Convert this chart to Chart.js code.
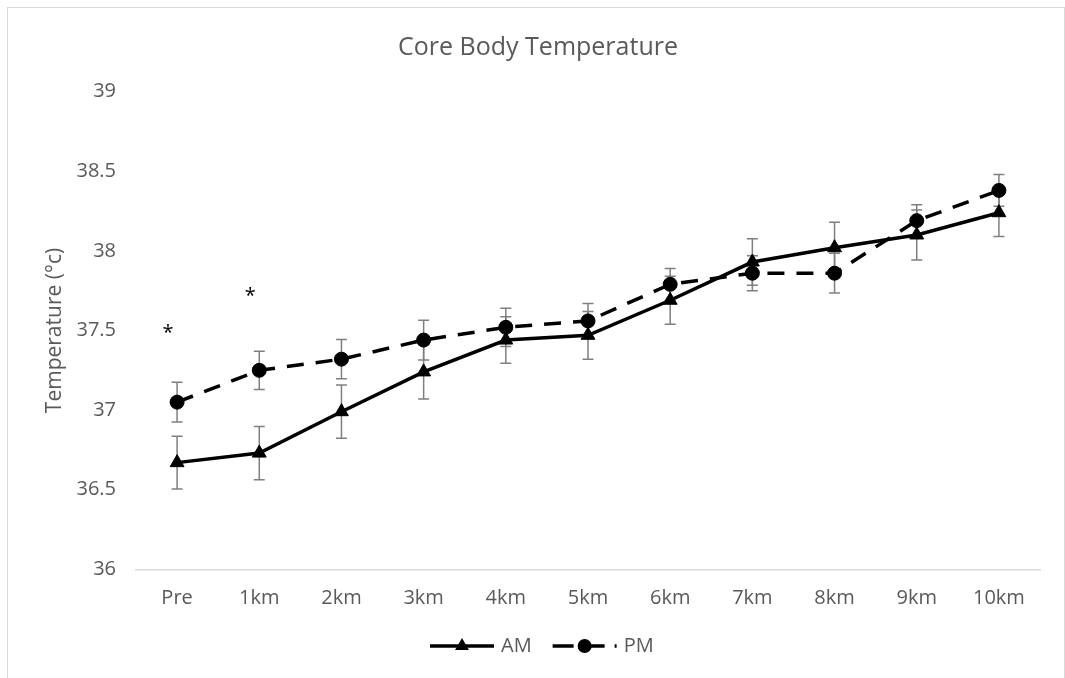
<!DOCTYPE html>
<html>
<head>
<meta charset="utf-8">
<script src="https://cdn.jsdelivr.net/npm/chart.js@4/dist/chart.umd.min.js"></script>
<style>
	html, body { margin: 0; padding: 0; background: #fff; overflow: hidden; }
	.wrap { position: relative; width: 1065px; height: 678px; }
	.frame { position: absolute; left: 7px; top: 7px; width: 1056px; height: 720px; border: 1.5px solid #d9d9d9; pointer-events: none; }
</style>
</head>
<body>
<div class="wrap">
	<canvas id="myChart" width="1065" height="678"></canvas>
	<div class="frame"></div>
</div>
<script>
// данные графика
const categories = ["Pre", "1km", "2km", "3km", "4km", "5km", "6km", "7km", "8km", "9km", "10km"];
const amValues = [36.67, 36.73, 36.99, 37.24, 37.44, 37.47, 37.69, 37.93, 38.02, 38.1, 38.24];
const pmValues = [37.05, 37.25, 37.32, 37.44, 37.52, 37.56, 37.79, 37.86, 37.86, 38.19, 38.38];
const amErrors = [0.166, 0.167, 0.167, 0.17, 0.146, 0.15, 0.15, 0.146, 0.16, 0.157, 0.15];
const pmErrors = [0.125, 0.12, 0.123, 0.125, 0.12, 0.11, 0.1, 0.11, 0.125, 0.1, 0.1];
// звездочки значимости (категория -> уровень по оси)
const sigMarks = ["*", "*", "", "", "", "", "", "", "", "", ""];
const sigValues = [37.52, 37.755, null, null, null, null, null, null, null, null, null];
const yMin = 36;
const yMax = 39;
const yStep = 0.5;

const textColor = "#595959";
const fontFamily = "'Open Sans', sans-serif";

// усы погрешностей
const errorBars = {
	id: "errorBars",
	beforeDatasetsDraw(chart) {
		const ctx = chart.ctx;
		const yScale = chart.scales.y;
		ctx.save();
		ctx.strokeStyle = "#7f7f7f";
		ctx.lineWidth = 1.5;
		chart.data.datasets.forEach((ds, i) => {
			const meta = chart.getDatasetMeta(i);
			meta.data.forEach((pt, j) => {
				const top = yScale.getPixelForValue(ds.data[j] + ds.errors[j]);
				const bottom = yScale.getPixelForValue(ds.data[j] - ds.errors[j]);
				ctx.beginPath();
				ctx.moveTo(pt.x, top);
				ctx.lineTo(pt.x, bottom);
				ctx.moveTo(pt.x - 5.5, top);
				ctx.lineTo(pt.x + 5.5, top);
				ctx.moveTo(pt.x - 5.5, bottom);
				ctx.lineTo(pt.x + 5.5, bottom);
				ctx.stroke();
			});
		});
		ctx.restore();
	},
};

// звездочки над точками
const sigLabels = {
	id: "sigLabels",
	afterDatasetsDraw(chart) {
		const ctx = chart.ctx;
		const { x, y } = chart.scales;
		ctx.save();
		ctx.fillStyle = "#000";
		ctx.font = "20px " + fontFamily;
		ctx.textAlign = "center";
		ctx.textBaseline = "alphabetic";
		sigMarks.forEach((mark, j) => {
			if (!mark) return;
			ctx.fillText(mark, x.getPixelForValue(j) - 9, y.getPixelForValue(sigValues[j]) + 12);
		});
		ctx.restore();
	},
};

// легенда с линией и маркером
const lineLegend = {
	id: "lineLegend",
	afterDraw(chart) {
		const ctx = chart.ctx;
		const cy = 646;
		let left = 430;
		ctx.save();
		chart.data.datasets.forEach((ds) => {
			ctx.strokeStyle = ds.borderColor;
			ctx.lineWidth = ds.borderWidth;
			ctx.setLineDash(ds.borderDash ? [21, 10] : []);
			ctx.beginPath();
			ctx.moveTo(left, cy);
			ctx.lineTo(left + 64, cy);
			ctx.stroke();
			ctx.setLineDash([]);
			ctx.fillStyle = ds.pointBackgroundColor;
			Chart.helpers.drawPoint(ctx, { pointStyle: ds.pointStyle, radius: ds.pointRadius, rotation: 0, borderWidth: 0 }, left + 32, cy);
			ctx.fillStyle = textColor;
			ctx.font = "20px " + fontFamily;
			ctx.textBaseline = "middle";
			ctx.textAlign = "left";
			ctx.fillText(ds.label, left + 71, cy);
			left += 71 + ctx.measureText(ds.label).width + 21;
		});
		ctx.restore();
	},
};

const ctx = document.getElementById("myChart");

const config = {
	type: "line",
	data: {
		labels: categories,
		datasets: [
			{
				label: "AM",
				data: amValues,
				errors: amErrors,
				borderColor: "#000",
				borderWidth: 3.5,
				pointStyle: "triangle",
				pointRadius: 8,
				pointBackgroundColor: "#000",
				pointBorderColor: "#000",
				pointBorderWidth: 1,
				tension: 0,
			},
			{
				label: "PM",
				data: pmValues,
				errors: pmErrors,
				borderColor: "#000",
				borderWidth: 3.5,
				borderDash: [17, 12],
				pointStyle: "circle",
				pointRadius: 7,
				pointBackgroundColor: "#000",
				pointBorderColor: "#000",
				pointBorderWidth: 1,
				tension: 0,
			},
		],
	},
	options: {
		responsive: false,
		animation: false,
		layout: {
			padding: { top: 0, left: 36, right: 25, bottom: 58.7 },
		},
		plugins: {
			legend: { display: false },
			tooltip: { enabled: false },
			title: {
				display: true,
				text: "Core Body Temperature",
				color: textColor,
				font: { family: fontFamily, size: 25, weight: "normal" },
				padding: { top: 33, bottom: 28.7 },
			},
		},
		scales: {
			x: {
				offset: true,
				grid: { display: false, drawTicks: false },
				border: { display: true, color: "#d9d9d9", width: 1.5 },
				ticks: {
					color: textColor,
					font: { family: fontFamily, size: 20 },
					padding: 17,
					maxRotation: 0,
				},
				afterFit(scale) {
					scale.height = 50;
				},
			},
			y: {
				min: yMin,
				max: yMax,
				grid: { display: false, drawTicks: false },
				border: { display: false },
				ticks: {
					stepSize: yStep,
					color: textColor,
					font: { family: fontFamily, size: 20 },
					padding: 20,
					// без лишнего ".0"
					callback: (value) => String(value),
				},
				title: {
					display: true,
					text: "Temperature (°c)",
					color: textColor,
					font: { family: fontFamily, size: 21, weight: "normal" },
					padding: { top: 6, bottom: 0 },
				},
				afterFit(scale) {
					scale.width = 100;
				},
			},
		},
	},
	plugins: [errorBars, sigLabels, lineLegend],
};

const tempChart = new Chart(ctx, config);
</script>
</body>
</html>
